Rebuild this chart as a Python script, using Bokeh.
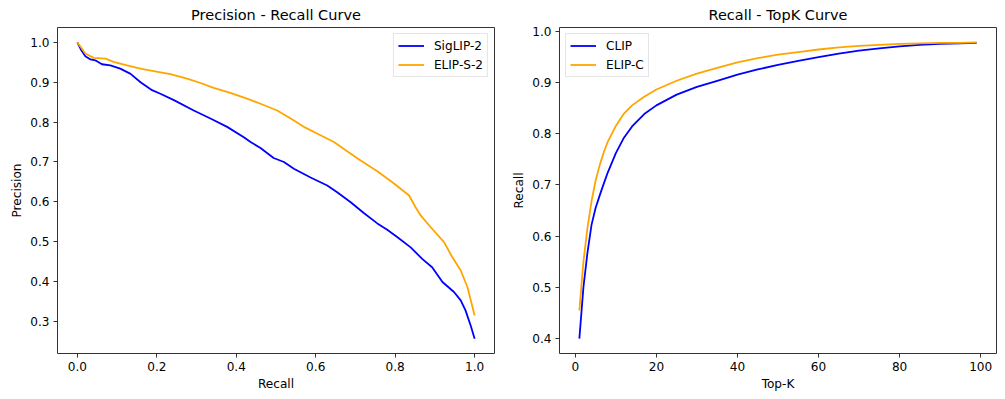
from bokeh.plotting import figure
from bokeh.layouts import row
from bokeh.models import Range1d, FixedTicker, NumeralTickFormatter, Legend, LegendItem
from bokeh.embed import file_html
from bokeh.resources import INLINE

# ---- Precision - Recall data ----
siglip_recall = [0.0, 0.01, 0.02, 0.033, 0.045, 0.062, 0.083, 0.108, 0.134, 0.159, 0.188, 0.209,
                 0.243, 0.293, 0.335, 0.377, 0.419, 0.436, 0.461, 0.494, 0.520, 0.545, 0.587,
                 0.629, 0.654, 0.688, 0.721, 0.755, 0.780, 0.805, 0.839, 0.868, 0.893, 0.919,
                 0.948, 0.965, 0.977, 0.990, 1.0]
siglip_precision = [1.0, 0.98, 0.965, 0.957, 0.955, 0.945, 0.942, 0.934, 0.921, 0.900, 0.880, 0.871,
                    0.855, 0.829, 0.809, 0.788, 0.762, 0.750, 0.735, 0.710, 0.700, 0.683, 0.661,
                    0.641, 0.624, 0.599, 0.572, 0.546, 0.530, 0.512, 0.486, 0.457, 0.436, 0.399,
                    0.374, 0.353, 0.328, 0.290, 0.257]
elip_s_recall = [0.0, 0.02, 0.041, 0.071, 0.091, 0.125, 0.159, 0.192, 0.234, 0.276, 0.310, 0.343,
                 0.385, 0.427, 0.461, 0.503, 0.537, 0.574, 0.612, 0.646, 0.679, 0.713, 0.755,
                 0.797, 0.835, 0.851, 0.864, 0.889, 0.923, 0.944, 0.965, 0.982, 1.0]
elip_s_precision = [1.0, 0.972, 0.961, 0.959, 0.951, 0.942, 0.934, 0.928, 0.920, 0.909, 0.898, 0.886,
                    0.873, 0.859, 0.846, 0.829, 0.809, 0.786, 0.767, 0.750, 0.727, 0.704, 0.677,
                    0.646, 0.616, 0.587, 0.566, 0.537, 0.499, 0.461, 0.428, 0.386, 0.315]

# ---- Recall - TopK data ----
top_k = [1, 2, 3, 4, 5, 6, 7, 8, 10, 12, 14, 17, 20, 25, 30, 35, 40, 45, 50, 55, 60, 65, 70,
         75, 80, 85, 90, 95, 99]
clip_recall = [0.400, 0.500, 0.568, 0.622, 0.655, 0.679, 0.702, 0.724, 0.762, 0.792, 0.814, 0.838,
               0.855, 0.876, 0.891, 0.903, 0.915, 0.925, 0.934, 0.942, 0.949, 0.956, 0.962,
               0.966, 0.970, 0.973, 0.975, 0.976, 0.977]
elip_c_recall = [0.455, 0.550, 0.616, 0.668, 0.708, 0.738, 0.763, 0.784, 0.815, 0.839, 0.855, 0.872,
                 0.886, 0.903, 0.917, 0.928, 0.939, 0.947, 0.954, 0.959, 0.964, 0.968, 0.971,
                 0.973, 0.975, 0.976, 0.977, 0.977, 0.978]

pr_xticks = [0.0, 0.2, 0.4, 0.6, 0.8, 1.0]
pr_yticks = [0.3, 0.4, 0.5, 0.6, 0.7, 0.8, 0.9, 1.0]
tk_xticks = [0, 20, 40, 60, 80, 100]
tk_yticks = [0.4, 0.5, 0.6, 0.7, 0.8, 0.9, 1.0]

FONT = "DejaVu Sans"
TXT = "#000000"
FRAME = "#333333"


def padded(lo, hi, frac=0.05):
    span = hi - lo
    return Range1d(lo - span * frac, hi + span * frac)


def style(p, xlabel, ylabel, xticks, yticks, xfmt, yfmt):
    p.title.text_font = FONT
    p.title.text_font_size = "14.5px"
    p.title.text_font_style = "normal"
    p.title.align = "center"
    p.title.text_color = TXT
    p.title.standoff = 9
    p.outline_line_color = FRAME
    p.outline_line_width = 1
    p.outline_line_alpha = 1
    p.xgrid.visible = False
    p.ygrid.visible = False
    p.background_fill_color = "white"
    p.border_fill_color = "white"
    for ax, lab, ticks, fmt in ((p.xaxis[0], xlabel, xticks, xfmt), (p.yaxis[0], ylabel, yticks, yfmt)):
        ax.axis_label = lab
        ax.axis_label_text_font = FONT
        ax.axis_label_text_font_size = "12.1px"
        ax.axis_label_text_font_style = "normal"
        ax.axis_label_text_color = TXT
        ax.axis_label_standoff = 3
        ax.major_label_text_font = FONT
        ax.major_label_text_font_size = "12.1px"
        ax.major_label_text_color = TXT
        ax.major_label_standoff = 4
        ax.ticker = FixedTicker(ticks=ticks)
        ax.formatter = NumeralTickFormatter(format=fmt)
        ax.axis_line_color = None
        ax.major_tick_line_color = FRAME
        ax.major_tick_line_width = 1
        ax.major_tick_in = 0
        ax.major_tick_out = 4
        ax.minor_tick_line_color = None


def add_legend(p, renderers, labels, loc):
    leg = Legend(items=[LegendItem(label=l, renderers=[r]) for l, r in zip(labels, renderers)],
                 location=loc)
    leg.margin = 6
    leg.padding = 4
    leg.spacing = 4
    leg.glyph_width = 26
    leg.glyph_height = 15
    leg.label_height = 15
    leg.label_standoff = 10
    leg.label_text_font = FONT
    leg.label_text_font_size = "12.1px"
    leg.label_text_color = TXT
    leg.border_line_color = "#cccccc"
    leg.border_line_width = 1
    leg.background_fill_color = "white"
    leg.background_fill_alpha = 0.8
    p.add_layout(leg, "center")


# ---- left figure ----
p1 = figure(width=508, height=399, output_backend="svg", toolbar_location=None,
            title="Precision - Recall Curve",
            x_range=padded(min(siglip_recall + elip_s_recall), max(siglip_recall + elip_s_recall)),
            y_range=padded(min(siglip_precision + elip_s_precision), max(siglip_precision + elip_s_precision)),
            min_border_left=57, min_border_right=14, min_border_top=27, min_border_bottom=46)
r1 = p1.line(siglip_recall, siglip_precision, line_color="blue", line_width=1.8)
r2 = p1.line(elip_s_recall, elip_s_precision, line_color="orange", line_width=1.8)
style(p1, "Recall", "Precision", pr_xticks, pr_yticks, "0.0", "0.0")
add_legend(p1, [r1, r2], ["SigLIP-2", "ELIP-S-2"], "top_right")

# ---- right figure ----
p2 = figure(width=497, height=399, output_backend="svg", toolbar_location=None,
            title="Recall - TopK Curve",
            x_range=padded(min(top_k), max(top_k)),
            y_range=padded(min(clip_recall + elip_c_recall), max(clip_recall + elip_c_recall)),
            min_border_left=51, min_border_right=9, min_border_top=27, min_border_bottom=46)
r3 = p2.line(top_k, clip_recall, line_color="blue", line_width=1.8)
r4 = p2.line(top_k, elip_c_recall, line_color="orange", line_width=1.8)
style(p2, "Top-K", "Recall", tk_xticks, tk_yticks, "0", "0.0")
add_legend(p2, [r3, r4], ["CLIP", "ELIP-C"], "top_left")

layout = row(p1, p2)
open("out.html", "w").write(file_html(layout, INLINE))
